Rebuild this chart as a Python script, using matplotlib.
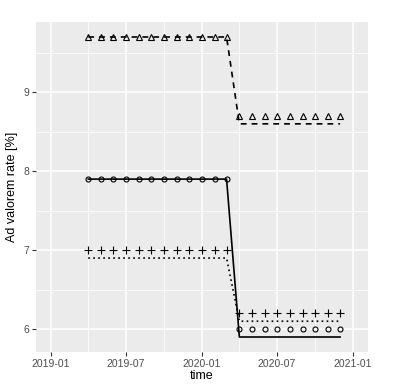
import numpy as np
import pandas as pd
import matplotlib
matplotlib.use("Agg")
from matplotlib import pyplot as plt
import matplotlib.dates as mdates

plt.rcParams['font.family'] = ['Liberation Sans', 'DejaVu Sans']

# monthly observations
months = pd.date_range("2019-04-01", "2020-12-01", freq="MS")
n_before = 12   # 2019-04 .. 2020-03
n_after = 9     # 2020-04 .. 2020-12

# point series (markers)
tri_pts = [9.7] * n_before + [8.7] * n_after
circ_pts = [7.9] * n_before + [6.0] * n_after
plus_pts = [7.0] * n_before + [6.2] * n_after

# line series
dashed_line = [9.7] * n_before + [8.6] * n_after
solid_line = [7.9] * n_before + [5.9] * n_after
dotted_line = [6.9] * n_before + [6.1] * n_after

x_breaks = pd.to_datetime(["2019-01-01", "2019-07-01", "2020-01-01", "2020-07-01", "2021-01-01"])
x_labels = ["2019-01", "2019-07", "2020-01", "2020-07", "2021-01"]
y_breaks = [6, 7, 8, 9]

fig = plt.figure(figsize=(3.99, 3.89), dpi=100)
ax = fig.add_axes([36 / 399, 37 / 389, 332 / 399, 330 / 389])
ax.set_facecolor("#EBEBEB")

ax.plot(months, dashed_line, color="black", lw=1.2, ls=(0, (3.5, 3)))
ax.plot(months, solid_line, color="black", lw=1.2, ls="-")
ax.plot(months, dotted_line, color="black", lw=1.2, ls=(0, (1, 2)))

ax.plot(months, tri_pts, ls="none", marker="^", ms=4.5, mfc="none", mec="black", mew=0.8)
ax.plot(months, circ_pts, ls="none", marker="o", ms=3.6, mfc="none", mec="black", mew=0.8)
ax.plot(months, plus_pts, ls="none", marker="+", ms=5.5, mec="black", mew=0.8)

ax.set_xticks(x_breaks)
ax.set_xticklabels(x_labels)
ax.set_yticks(y_breaks)
ax.set_yticklabels([str(v) for v in y_breaks])

# minor grid lines at midpoints
xb = mdates.date2num(x_breaks)
ax.set_xticks((xb[:-1] + xb[1:]) / 2, minor=True)
ax.set_yticks([6.5, 7.5, 8.5, 9.5], minor=True)

# ggplot-like limits with 5% expansion
x0, x1 = xb[0], xb[-1]
pad = (x1 - x0) * 0.05
ax.set_xlim(x0 - pad, x1 + pad)
ylo, yhi = 5.9, 9.7
ypad = (yhi - ylo) * 0.05
ax.set_ylim(ylo - ypad, yhi + ypad)

ax.grid(which="major", color="white", lw=1.1)
ax.grid(which="minor", color="white", lw=0.55)
ax.set_axisbelow(True)

for s in ax.spines.values():
    s.set_visible(False)
ax.tick_params(which="major", length=3, width=0.8, color="#333333",
               labelsize=7.5, labelcolor="#4D4D4D", pad=2)
ax.tick_params(which="minor", length=0)

ax.set_xlabel("time", fontsize=9, labelpad=1)
ax.set_ylabel("Ad valorem rate [%]", fontsize=9, labelpad=4)

fig.savefig("out.png", dpi=100)
